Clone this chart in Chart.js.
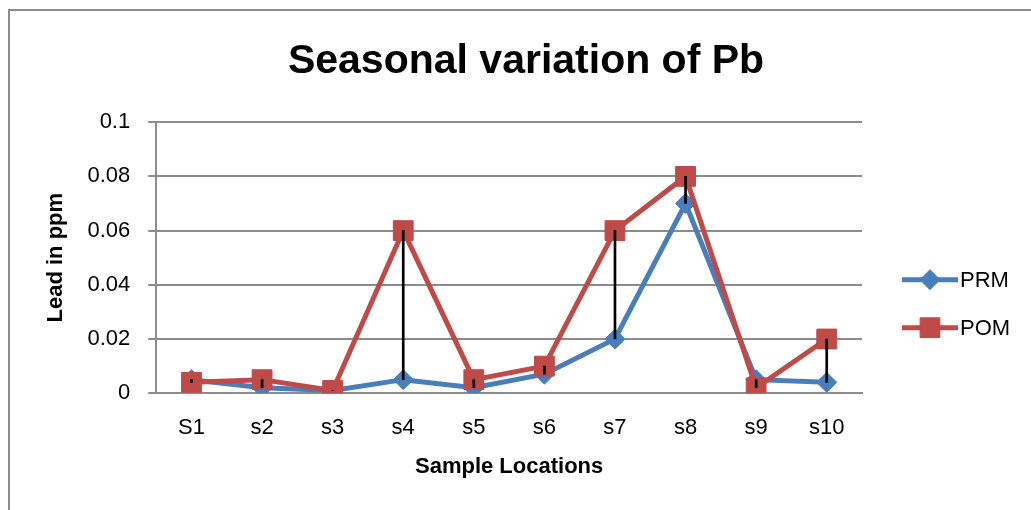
<!DOCTYPE html>
<html>
<head>
<meta charset="utf-8">
<script src="https://cdn.jsdelivr.net/npm/chart.js@4/dist/chart.umd.min.js"></script>
<style>
  html, body { margin: 0; padding: 0; background: #fff; }
  #wrap { position: relative; width: 1031px; height: 510px; overflow: hidden; }
  #frame { position: absolute; left: 8px; top: 9px; width: 1100px; height: 600px; border: 2px solid #8c8c8c; box-sizing: border-box; }
  canvas { position: absolute; left: 0; top: 0; }
</style>
</head>
<body>
<div id="wrap">
  <div id="frame"></div>
  <canvas id="lead-chart" width="1031" height="510"></canvas>
</div>
<script>
const canvas = document.getElementById('lead-chart');

// chart values
const locations = ['S1', 's2', 's3', 's4', 's5', 's6', 's7', 's8', 's9', 's10'];
const prm = [0.005, 0.002, 0.001, 0.005, 0.002, 0.007, 0.02, 0.07, 0.005, 0.004];
const pom = [0.004, 0.005, 0.001, 0.06, 0.005, 0.01, 0.06, 0.08, 0.002, 0.02];
const yTicks = [0, 0.02, 0.04, 0.06, 0.08, 0.1];

const FONT = "'Liberation Sans', Arial, sans-serif";
const BLUE = '#4A7EBB';
const RED = '#BE4B48';

// high-low lines between the two series
const highLow = prm.map((v, i) => [Math.min(v, pom[i]), Math.max(v, pom[i])]);

// legend on the right, excel style: short line with the marker on it.
// added as its own layout box so the title stays centred on the whole chart
const sideLegend = {
    id: 'sideLegend',
    beforeInit(chart) {
        const box = {
            position: 'right',
            weight: 1000,
            fullSize: false,
            options: {},
            isHorizontal() { return false; },
            update(maxWidth, maxHeight) {
                this.width = 169;
                this.height = maxHeight;
            },
            draw() {
                const ctx = chart.ctx;
                const area = chart.chartArea;
                const items = chart.data.datasets.filter(d => d.type === 'line');
                const x0 = this.left + 40, x1 = this.left + 96;
                const top = (area.top + area.bottom) / 2 + 22, gap = 48;
                items.forEach((ds, i) => {
                    const y = top + i * gap;
                    ctx.save();
                    ctx.strokeStyle = ds.borderColor;
                    ctx.lineWidth = ds.borderWidth;
                    ctx.beginPath();
                    ctx.moveTo(x0, y);
                    ctx.lineTo(x1, y);
                    ctx.stroke();
                    ctx.fillStyle = ds.backgroundColor;
                    ctx.strokeStyle = ds.backgroundColor;
                    ctx.lineWidth = 1;
                    Chart.helpers.drawPoint(ctx, {pointStyle: ds.pointStyle, radius: ds.pointRadius, borderWidth: 1}, (x0 + x1) / 2, y);
                    ctx.fillStyle = '#000';
                    ctx.font = '22px ' + FONT;
                    ctx.textBaseline = 'middle';
                    ctx.textAlign = 'left';
                    ctx.fillText(ds.label, x1 + 2, y + 1);
                    ctx.restore();
                });
            }
        };
        Chart.layouts.addBox(chart, box);
    }
};

function generateChart() {
    new Chart(canvas, {
        data: {
            labels: locations,
            datasets: [
                {
                    type: 'bar',
                    label: 'high-low',
                    data: highLow,
                    backgroundColor: '#000',
                    barThickness: 2,
                    order: 0
                },
                {
                    type: 'line',
                    label: 'PRM',
                    data: prm,
                    borderColor: BLUE,
                    backgroundColor: BLUE,
                    borderWidth: 5,
                    pointStyle: 'rectRot',
                    pointRadius: 10,
                    pointBorderWidth: 1,
                    tension: 0,
                    order: 2
                },
                {
                    type: 'line',
                    label: 'POM',
                    data: pom,
                    borderColor: RED,
                    backgroundColor: RED,
                    borderWidth: 5,
                    pointStyle: 'rect',
                    pointRadius: 14,
                    pointBorderWidth: 1,
                    tension: 0,
                    order: 1
                }
            ]
        },
        options: {
            responsive: false,
            animation: false,
            layout: {
                padding: {left: 21, right: 0, top: 10, bottom: 26}
            },
            plugins: {
                legend: {display: false},
                tooltip: {enabled: false},
                title: {
                    display: true,
                    text: 'Seasonal variation of Pb',
                    color: '#000',
                    font: {family: FONT, size: 41, weight: 'bold'},
                    padding: {top: 27, bottom: 36}
                }
            },
            scales: {
                x: {
                    offset: true,
                    grid: {display: false, drawTicks: false},
                    border: {color: '#8c8c8c', width: 2},
                    ticks: {color: '#000', font: {family: FONT, size: 22}, padding: 22},
                    title: {
                        display: true,
                        text: 'Sample Locations',
                        color: '#000',
                        font: {family: FONT, size: 22, weight: 'bold'},
                        padding: {top: -10, bottom: 4}
                    }
                },
                y: {
                    min: 0,
                    max: 0.1,
                    afterBuildTicks: axis => { axis.ticks = yTicks.map(v => ({value: v})); },
                    grid: {color: '#8c8c8c', lineWidth: 2, tickLength: 8},
                    border: {color: '#8c8c8c', width: 2},
                    ticks: {
                        color: '#000',
                        font: {family: FONT, size: 22},
                        padding: 18,
                        callback: v => String(Math.round(v * 100) / 100)
                    },
                    title: {
                        display: true,
                        text: 'Lead in ppm',
                        color: '#000',
                        font: {family: FONT, size: 22, weight: 'bold'},
                        padding: {top: 22, bottom: 0}
                    }
                }
            }
        },
        plugins: [sideLegend]
    });
}

document.addEventListener('DOMContentLoaded', (event) => generateChart());
</script>
</body>
</html>
